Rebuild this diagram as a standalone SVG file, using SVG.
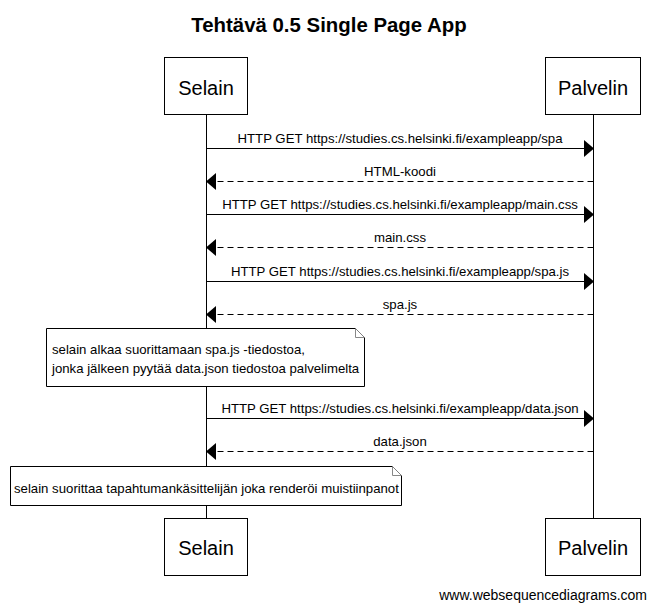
<svg xmlns="http://www.w3.org/2000/svg" width="656" height="609" viewBox="0 0 656 609">
<style>
text{font-family:"Liberation Sans",Arial,sans-serif;fill:#000}
.title{font-size:20.4px;font-weight:bold;text-anchor:middle}
.actor rect{fill:#fff;stroke:#000;stroke-width:1}
.actor text{font-size:20px;text-anchor:middle}
.life{stroke:#000;stroke-width:1}
.msg{stroke:#000;stroke-width:1;fill:none}
.dash{stroke-dasharray:6,4}
.lbl{font-size:13.2px;text-anchor:middle}
.note path.body{fill:#fff;stroke:#000;stroke-width:1}
.note path.fold{fill:#fff;stroke:#888;stroke-width:1}
.note text{font-size:13.2px}
.foot{font-size:14px;text-anchor:end}
.head{fill:#000}
</style>
<rect width="656" height="609" fill="#fff"/>
<text class="title" x="329" y="32">Tehtävä 0.5 Single Page App</text>
<g id="lifelines">
<line class="life" x1="206.5" y1="114" x2="206.5" y2="518"/>
<line class="life" x1="593.5" y1="114" x2="593.5" y2="518"/>
</g>
<g id="connectors">
<g id="m1"><line class="msg" x1="206.5" y1="148.5" x2="585" y2="148.5"/><path class="head" d="M594,148.5 L584,140 L584,157 Z"/><text class="lbl" x="400" y="143">HTTP GET https://studies.cs.helsinki.fi/exampleapp/spa</text></g>
<g id="m2"><line class="msg dash" x1="593.5" y1="181.5" x2="215" y2="181.5"/><path class="head" d="M206,181.5 L216,173 L216,190 Z"/><text class="lbl" x="400" y="176">HTML-koodi</text></g>
<g id="m3"><line class="msg" x1="206.5" y1="214.5" x2="585" y2="214.5"/><path class="head" d="M594,214.5 L584,206 L584,223 Z"/><text class="lbl" x="400" y="209">HTTP GET https://studies.cs.helsinki.fi/exampleapp/main.css</text></g>
<g id="m4"><line class="msg dash" x1="593.5" y1="247.5" x2="215" y2="247.5"/><path class="head" d="M206,247.5 L216,239 L216,256 Z"/><text class="lbl" x="400" y="242">main.css</text></g>
<g id="m5"><line class="msg" x1="206.5" y1="281.5" x2="585" y2="281.5"/><path class="head" d="M594,281.5 L584,273 L584,290 Z"/><text class="lbl" x="400" y="276">HTTP GET https://studies.cs.helsinki.fi/exampleapp/spa.js</text></g>
<g id="m6"><line class="msg dash" x1="593.5" y1="314.5" x2="215" y2="314.5"/><path class="head" d="M206,314.5 L216,306 L216,323 Z"/><text class="lbl" x="400" y="309">spa.js</text></g>
<g id="m7"><line class="msg" x1="206.5" y1="418.5" x2="585" y2="418.5"/><path class="head" d="M594,418.5 L584,410 L584,427 Z"/><text class="lbl" x="400" y="413">HTTP GET https://studies.cs.helsinki.fi/exampleapp/data.json</text></g>
<g id="m8"><line class="msg dash" x1="593.5" y1="451.5" x2="215" y2="451.5"/><path class="head" d="M206,451.5 L216,443 L216,460 Z"/><text class="lbl" x="400" y="446">data.json</text></g>
</g>
<g id="note1" class="note">
<path class="body" d="M46.5,328.5 H355.5 L364.5,337.5 V386.5 H46.5 Z"/>
<path class="fold" d="M355.5,328.5 V337.5 H364.5"/>
<text x="52" y="354">selain alkaa suorittamaan spa.js -tiedostoa,</text>
<text x="52" y="373">jonka jälkeen pyytää data.json tiedostoa palvelimelta</text>
</g>
<g id="note2" class="note">
<path class="body" d="M10.5,466.5 H392.5 L401.5,475.5 V505.5 H10.5 Z"/>
<path class="fold" d="M392.5,466.5 V475.5 H401.5"/>
<text x="14" y="493">selain suorittaa tapahtumankäsittelijän joka renderöi muistiinpanot</text>
</g>
<g id="selain-top" class="actor"><rect x="164.5" y="57.5" width="83" height="57"/><text x="206" y="95">Selain</text></g>
<g id="palvelin-top" class="actor"><rect x="545.5" y="57.5" width="95" height="57"/><text x="593" y="95">Palvelin</text></g>
<g id="selain-bottom" class="actor"><rect x="164.5" y="518.5" width="83" height="57"/><text x="206" y="555">Selain</text></g>
<g id="palvelin-bottom" class="actor"><rect x="545.5" y="518.5" width="95" height="57"/><text x="593" y="555">Palvelin</text></g>
<text class="foot" x="647" y="600">www.websequencediagrams.com</text>
</svg>
